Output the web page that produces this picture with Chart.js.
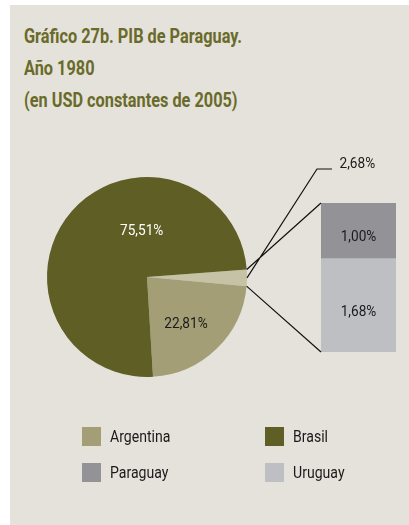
<!DOCTYPE html>
<html lang="es">
<head>
<meta charset="utf-8">
<title>PIB de Paraguay 1980</title>
<script src="https://cdn.jsdelivr.net/npm/chart.js@4/dist/chart.umd.min.js"></script>
<style>
  html, body { margin: 0; padding: 0; background: #ffffff; }
  body { width: 409px; height: 525px; position: relative; overflow: hidden; }
  #panel { position: absolute; left: 10px; top: 5px; right: 0; bottom: 0; background: #e4e2db; }
  #title {
    position: absolute; left: 24px; top: 20px; margin: 0;
    font-family: Roboto, "Liberation Sans", sans-serif;
    font-weight: bold; font-size: 21px; line-height: 32px; color: #6a6a2a;
    transform-origin: 0 0; white-space: nowrap;
  }
  #title span { display: inline-block; }
  canvas { position: absolute; left: 0; top: 0; }
  .legend-item { position: absolute; height: 19px; display: flex; align-items: center;
    font-family: Roboto, "Liberation Sans", sans-serif;
    font-size: 16px; color: #1a1a1a; white-space: nowrap; }
  .legend-item span.box { width: 19px; height: 19px; display: inline-block; margin-right: 9px; flex: none; }
  .legend-item span.txt { display: inline-block; transform: scaleX(0.88); transform-origin: 0 50%; }
</style>
</head>
<body>
<div id="panel"></div>
<h1 id="title"><span id="titleLine1">Gráfico 27b. PIB de Paraguay.</span><br>Año 1980<br>(en USD constantes de 2005)</h1>
<canvas id="pie" width="409" height="525"></canvas>
<canvas id="bars" width="409" height="525"></canvas>
<div id="legend"></div>
<script>
// Share of regional GDP, 1980 (% of total, constant 2005 USD)
const categories = ['Argentina', 'Brasil', 'Paraguay', 'Uruguay'];
const shares = [22.81, 75.51, 1.00, 1.68];
const colors = ['#a39e76', '#5f5e24', '#939397', '#bebfc3'];
const restColor = '#c6c2a5';

const FONT = 'Roboto, "Liberation Sans", sans-serif';
const LABEL_FONT = '15.5px ' + FONT;
const NARROW = 0.88; // horizontal squeeze for a condensed look
const fmt = v => v.toFixed(2).replace('.', ',') + '%';

// condensed title: squeeze so the first line spans 218px
(function fitTitle() {
  const title = document.getElementById('title');
  const w = document.getElementById('titleLine1').getBoundingClientRect().width;
  title.style.transform = 'scaleX(' + (218 / w) + ')';
})();

function condensedText(ctx, text, x, y) {
  ctx.save();
  ctx.translate(x, y);
  ctx.scale(NARROW, 1);
  ctx.fillText(text, 0, 0);
  ctx.restore();
}

// Paraguay + Uruguay are grouped into one slice and broken out in the bar
const restShare = shares[2] + shares[3];
const pieLabels = ['Paraguay y Uruguay', categories[0], categories[1]];
const pieValues = [restShare, shares[0], shares[1]];
const pieColors = [restColor, colors[0], colors[1]];

// Slice value labels: polar placement (degrees from 3 o'clock, fraction of radius)
const sliceLabelPlacement = {
  1: { angle: 50.3, r: 0.61, color: '#1a1a1a' },
  2: { angle: -96.7, r: 0.457, color: '#ffffff' }
};

const pieLabelPlugin = {
  id: 'pieLabels',
  afterDatasetsDraw(chart) {
    const ctx = chart.ctx;
    const meta = chart.getDatasetMeta(0);
    ctx.save();
    ctx.font = LABEL_FONT;
    ctx.textAlign = 'center';
    ctx.textBaseline = 'middle';
    Object.keys(sliceLabelPlacement).forEach(k => {
      const i = +k, p = sliceLabelPlacement[k];
      const arc = meta.data[i];
      const a = p.angle * Math.PI / 180;
      const x = arc.x + Math.cos(a) * arc.outerRadius * p.r;
      const y = arc.y + Math.sin(a) * arc.outerRadius * p.r;
      ctx.fillStyle = p.color;
      condensedText(ctx, fmt(chart.data.datasets[0].data[i]), x, y);
    });
    ctx.restore();
  }
};

const pieChart = new Chart(document.getElementById('pie'), {
  type: 'pie',
  data: {
    labels: pieLabels,
    datasets: [{ data: pieValues, backgroundColor: pieColors, borderWidth: 0 }]
  },
  options: {
    responsive: false,
    animation: false,
    rotation: 85.7,
    layout: { padding: { left: 47, right: 162, top: 177, bottom: 148 } },
    plugins: { legend: { display: false }, tooltip: { enabled: false } },
    events: []
  },
  plugins: [pieLabelPlugin]
});

// Breakout bar plus the connectors back to the grouped slice
const breakoutPlugin = {
  id: 'breakout',
  afterDatasetsDraw(chart) {
    const ctx = chart.ctx;
    const slice = pieChart.getDatasetMeta(0).data[0];
    const cx = slice.x, cy = slice.y, R = slice.outerRadius;
    const pt = a => [cx + Math.cos(a) * R, cy + Math.sin(a) * R];
    const top = chart.getDatasetMeta(1).data[0];
    const bottom = chart.getDatasetMeta(0).data[0];
    const left = top.x - top.width / 2;
    const pStart = pt(slice.startAngle), pEnd = pt(slice.endAngle);
    const pMid = pt((slice.startAngle + slice.endAngle) / 2);

    ctx.save();
    ctx.strokeStyle = '#111111';
    ctx.lineWidth = 1.2;
    ctx.beginPath();
    ctx.moveTo(pStart[0], pStart[1]); ctx.lineTo(left, top.y);
    ctx.moveTo(pEnd[0], pEnd[1]); ctx.lineTo(left, bottom.base);
    // leader to the total label
    const elbowX = left - 4, elbowY = top.y - 34;
    ctx.moveTo(pMid[0], pMid[1]); ctx.lineTo(elbowX, elbowY); ctx.lineTo(elbowX + 15, elbowY);
    ctx.stroke();

    ctx.font = LABEL_FONT;
    ctx.fillStyle = '#1a1a1a';
    ctx.textBaseline = 'middle';
    ctx.textAlign = 'left';
    condensedText(ctx, fmt(restShare), elbowX + 22.5, elbowY - 4.5);

    ctx.textAlign = 'center';
    chart.data.datasets.forEach((ds, di) => {
      const bar = chart.getDatasetMeta(di).data[0];
      condensedText(ctx, fmt(ds.data[0]), bar.x, (bar.y + bar.base) / 2 + 6.5);
    });
    ctx.restore();
  }
};

new Chart(document.getElementById('bars'), {
  type: 'bar',
  data: {
    labels: ['Paraguay y Uruguay'],
    datasets: [
      { label: categories[3], data: [shares[3]], backgroundColor: colors[3] },
      { label: categories[2], data: [shares[2]], backgroundColor: colors[2] }
    ]
  },
  options: {
    responsive: false,
    animation: false,
    layout: { padding: { left: 321, right: 13, top: 203, bottom: 173 } },
    datasets: { bar: { barPercentage: 1, categoryPercentage: 1, borderWidth: 0 } },
    scales: {
      x: { stacked: true, display: false },
      y: { stacked: true, display: false, min: 0, max: restShare }
    },
    plugins: { legend: { display: false }, tooltip: { enabled: false } },
    events: []
  },
  plugins: [breakoutPlugin]
});

// Legend, two columns
const legendPos = [[82, 427], [265, 427], [82, 463], [265, 463]];
const legend = document.getElementById('legend');
categories.forEach((name, i) => {
  const item = document.createElement('div');
  item.className = 'legend-item';
  item.style.left = legendPos[i][0] + 'px';
  item.style.top = legendPos[i][1] + 'px';
  const box = document.createElement('span');
  box.className = 'box';
  box.style.background = colors[i];
  const txt = document.createElement('span');
  txt.className = 'txt';
  txt.textContent = name;
  item.appendChild(box);
  item.appendChild(txt);
  legend.appendChild(item);
});
</script>
</body>
</html>
